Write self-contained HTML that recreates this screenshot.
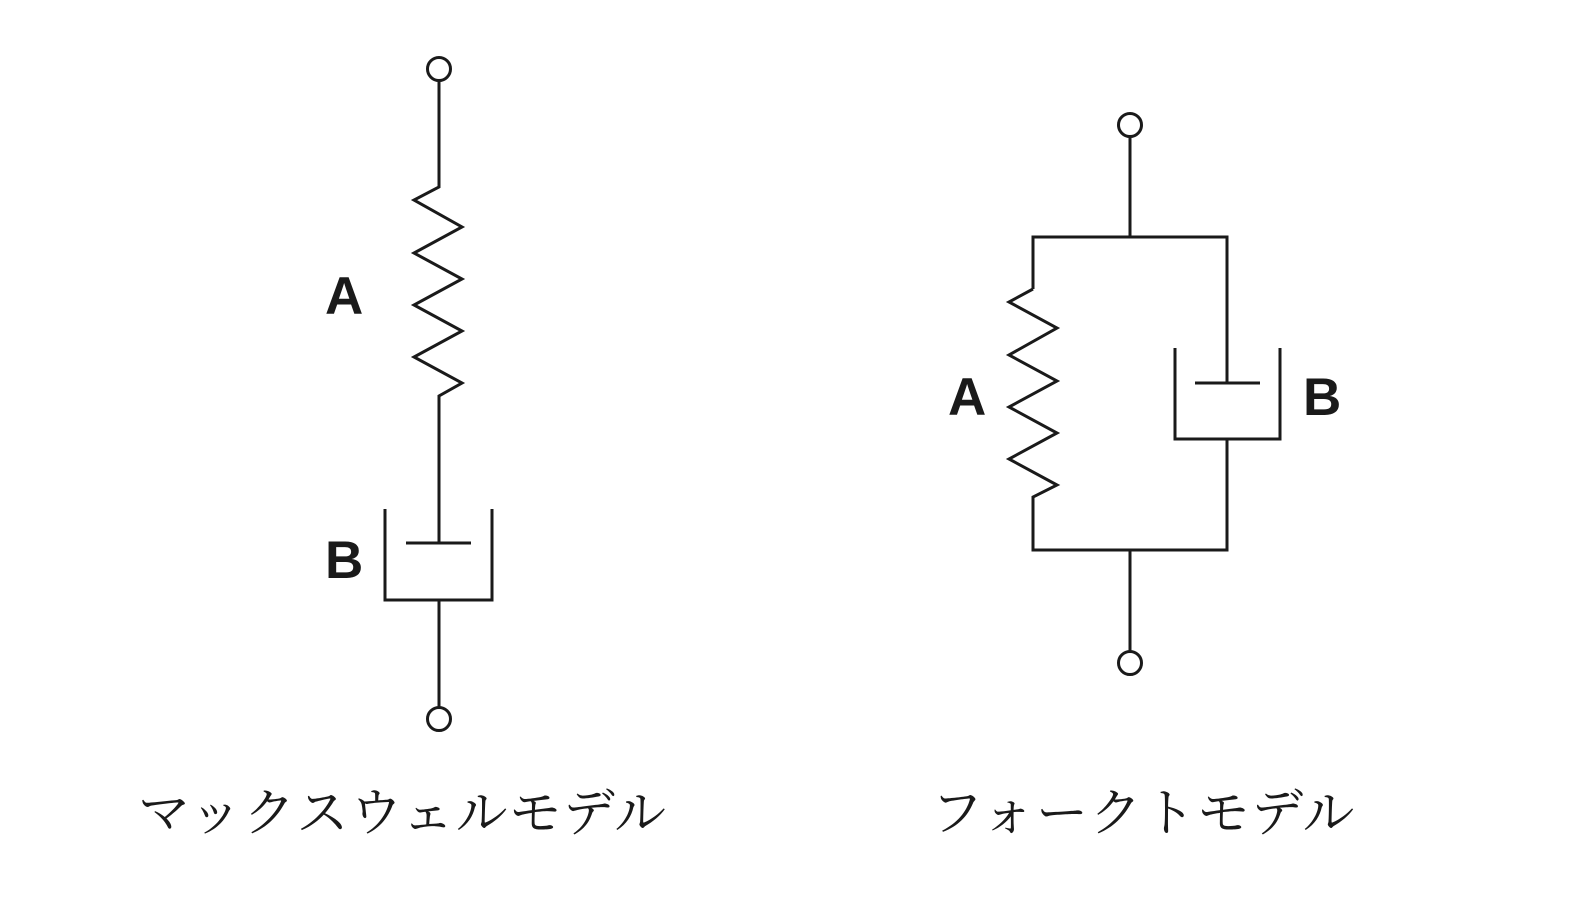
<!DOCTYPE html>
<html><head><meta charset="utf-8"><style>
html,body{margin:0;padding:0;background:#fff;}
svg{display:block;}
</style></head><body>
<svg width="1590" height="910" viewBox="0 0 1590 910" xmlns="http://www.w3.org/2000/svg">
<g fill="none" stroke="#1a1a1a" stroke-width="3" stroke-linejoin="miter">
<!-- Maxwell -->
<circle cx="439" cy="69" r="11.5" fill="#fff"/>
<polyline points="439,81 439,187 414,200 462,227 414,253 462,279 414,305 462,331 414,357 462,383 439,396 439,543"/>
<polyline points="385,509 385,600 492,600 492,509"/>
<line x1="406" y1="543" x2="471" y2="543"/>
<line x1="439" y1="600" x2="439" y2="707"/>
<circle cx="439" cy="719" r="11.5" fill="#fff"/>
<!-- Voigt -->
<circle cx="1130" cy="125" r="11.5" fill="#fff"/>
<line x1="1130" y1="137" x2="1130" y2="237"/>
<polyline points="1033,289 1033,237 1227,237 1227,383"/>
<polyline points="1033,289 1009,302 1057,328 1009,355 1057,381 1009,407 1057,433 1009,459 1057,485 1033,497 1033,550 1227,550 1227,439"/>
<polyline points="1175,348 1175,439 1280,439 1280,348"/>
<line x1="1195" y1="383" x2="1260" y2="383"/>
<line x1="1130" y1="550" x2="1130" y2="651"/>
<circle cx="1130" cy="663" r="11.5" fill="#fff"/>
</g>
<g font-family="'Liberation Sans',sans-serif" font-weight="bold" font-size="53" fill="#1a1a1a">
<text x="325" y="314">A</text>
<text x="325" y="578">B</text>
<text x="948" y="415">A</text>
<text x="1303" y="415">B</text>
</g>
<g font-family="'Noto Serif CJK JP','Noto Serif CJK SC',serif" font-size="52" fill="#1a1a1a">
<text x="138" y="831" letter-spacing="1.7">マックスウェルモデル</text>
<text x="931" y="831" letter-spacing="1.8">フォークトモデル</text>
</g>
</svg>
</body></html>
